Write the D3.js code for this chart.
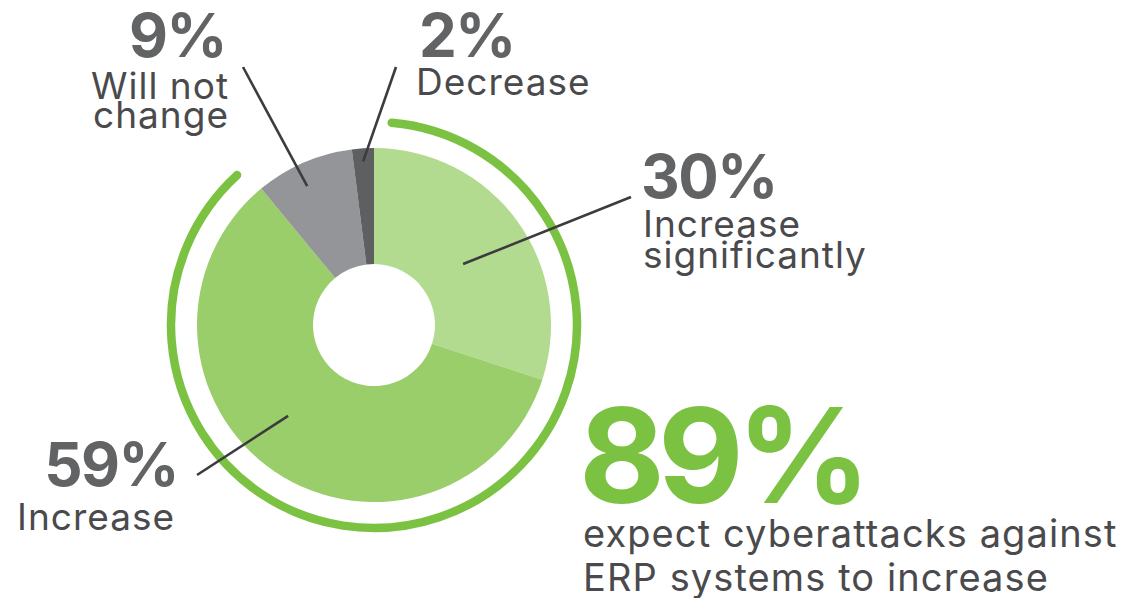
<!DOCTYPE html>
<html>
<head>
<meta charset="utf-8">
<script src="https://cdn.jsdelivr.net/npm/d3@7"></script>
<style>
  html, body { margin: 0; padding: 0; background: #ffffff; }
  svg { display: block; }
  .reg { font-family: Inter, "Open Sans", sans-serif; font-weight: 400; fill: #4a4a4c; }
  .big { font-family: Inter, "Open Sans", sans-serif; font-weight: 700; fill: #626365; }
</style>
</head>
<body>
<svg id="chart" width="1140" height="598"></svg>
<script>
// ---- data ----
const categories = ["Increase significantly", "Increase", "Will not change", "Decrease"];
const values = [30, 59, 9, 2];
const percentLabels = ["30%", "59%", "9%", "2%"];
const labelLines = [["Increase", "significantly"], ["Increase"], ["Will not", "change"], ["Decrease"]];
const headlineValue = 89;
const headlineText = ["expect cyberattacks against", "ERP systems to increase"];

// ---- styles / layout ----
const colors = ["#b3db8f", "#9ace6a", "#939598", "#5e5f61"];
const ringColor = "#7cc242";
const cx = 374, cy = 325;
const outerR = 177, innerR = 61, ringR = 203;

const svg = d3.select("#chart");
const g = svg.append("g").attr("transform", `translate(${cx},${cy})`);

const pie = d3.pie().sort(null).value(d => d);
const arcs = pie(values);
const arc = d3.arc().innerRadius(innerR).outerRadius(outerR);

g.selectAll("path.slice")
  .data(arcs)
  .enter().append("path")
  .attr("class", "slice")
  .attr("d", arc)
  .attr("fill", (d, i) => colors[i]);

// decorative ring spanning the "increase" share
const incShare = values[0] + values[1];
const total = d3.sum(values);
const ringStart = 5 * Math.PI / 180;
const ringEnd = (incShare / total) * 2 * Math.PI - 2.8 * Math.PI / 180;
const ringPath = d3.path();
ringPath.arc(0, 0, ringR, ringStart - Math.PI / 2, ringEnd - Math.PI / 2);
g.append("path")
  .attr("d", ringPath.toString())
  .attr("fill", "none")
  .attr("stroke", ringColor)
  .attr("stroke-width", 8.5)
  .attr("stroke-linecap", "round");

// leader lines: inner point (angle deg, radius) and outer point in page coords
const leaderLayout = [
  { a: 55.6, r: 108, x2: 631, y2: 197 },
  { a: 223.4, r: 125, x2: 197, y2: 475 },
  { a: 334.3, r: 154, x2: 243, y2: 67 },
  { a: 356.2, r: 164, x2: 396, y2: 67 }
];
const leaders = svg.append("g");
arcs.forEach((d, i) => {
  const L = leaderLayout[i];
  const ang = L.a * Math.PI / 180;
  const p = d3.pointRadial(ang, L.r);
  leaders.append("line")
    .attr("x1", cx + p[0]).attr("y1", cy + p[1])
    .attr("x2", L.x2).attr("y2", L.y2)
    .attr("stroke", "#3c3c3e")
    .attr("stroke-width", 2.6);
});

// labels
const labelLayout = [
  { x: 641, anchor: "start", pctY: 198, lineYs: [237, 268], lineX: 643 },
  { x: 178, anchor: "end", pctY: 486, lineYs: [530], lineX: 17, lineAnchor: "start" },
  { x: 226, anchor: "end", pctY: 57, lineYs: [99, 128], lineX: 229 },
  { x: 419, anchor: "start", pctY: 57, lineYs: [95], lineX: 416 }
];
const labels = svg.append("g");
arcs.forEach((d, i) => {
  const L = labelLayout[i];
  labels.append("text")
    .attr("class", "big")
    .attr("x", L.x).attr("y", L.pctY)
    .attr("text-anchor", L.anchor)
    .attr("font-size", 60)
    .attr("letter-spacing", -1.5)
    .text(percentLabels[i]);
  labelLines[i].forEach((t, j) => {
    labels.append("text")
      .attr("class", "reg")
      .attr("x", L.lineX)
      .attr("y", L.lineYs[j])
      .attr("text-anchor", L.lineAnchor || L.anchor)
      .attr("font-size", 37)
      .attr("letter-spacing", 1)
      .text(t);
  });
});

// headline
svg.append("text")
  .attr("class", "big")
  .attr("x", 579).attr("y", 503)
  .attr("font-size", 132)
  .attr("letter-spacing", -7)
  .style("fill", ringColor)
  .text(headlineValue + "%");
headlineText.forEach((t, j) => {
  svg.append("text")
    .attr("class", "reg")
    .attr("x", 583).attr("y", 547 + j * 44)
    .attr("font-size", 38)
    .attr("letter-spacing", 1.1)
    .text(t);
});
</script>
</body>
</html>
